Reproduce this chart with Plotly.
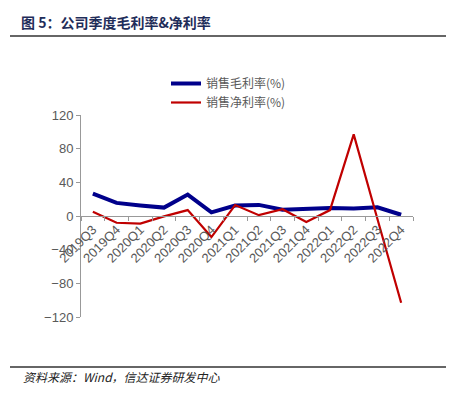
import plotly.graph_objects as go

quarters = ["2019Q3", "2019Q4", "2020Q1", "2020Q2", "2020Q3", "2020Q4", "2021Q1",
            "2021Q2", "2021Q3", "2021Q4", "2022Q1", "2022Q2", "2022Q3", "2022Q4"]
gross_margin = [26.5, 15.6, 12.5, 10.0, 25.5, 4.3, 12.5, 13.2, 7.5, 9.0, 9.5, 9.0, 10.3, 1.5]
net_margin = [5.0, -8.0, -9.0, -0.5, 7.0, -25.0, 13.0, 1.0, 8.0, -7.0, 7.0, 97.0, -3.5, -103.0]
y_ticks = [-120, -80, -40, 0, 40, 80, 120]

OFF = 8  # browser default body margin
W, H = 454 - OFF, 396 - OFF
L, R, T, B = 81 - OFF, 41, 115 - OFF, 79
PW, PH = W - L - R, H - T - B

def px_x(x):
    return (x - OFF - L) / PW

def px_y(y):
    return (H - B - (y - OFF)) / PH

fig = go.Figure()
fig.add_trace(go.Scatter(x=quarters, y=gross_margin, mode="lines", name="销售毛利率(%)",
                         line=dict(color="#00008B", width=4)))
fig.add_trace(go.Scatter(x=quarters, y=net_margin, mode="lines", name="销售净利率(%)",
                         line=dict(color="#C00000", width=2.2)))

grey = "#595959"
fig.update_layout(
    width=W, height=H,
    margin=dict(l=L, r=R, t=T, b=B, autoexpand=False),
    paper_bgcolor="white", plot_bgcolor="white",
    font=dict(family="Liberation Sans, Noto Sans CJK SC, sans-serif", size=13, color=grey),
    showlegend=True,
    legend=dict(xref="container", yref="container", x=(166 - OFF) / W, y=1 - (69 - OFF) / H,
                xanchor="left", yanchor="top", bgcolor="rgba(0,0,0,0)",
                font=dict(family="Noto Sans CJK SC, sans-serif", size=12, color=grey),
                tracegroupgap=0, itemwidth=30),
    xaxis=dict(type="category", anchor="free", position=0.5,
               showline=True, linecolor="#999999", linewidth=1,
               ticks="outside", ticklen=4, tickcolor="#999999", tickson="boundaries",
               tickangle=-45, showgrid=False, zeroline=False,
               tickfont=dict(size=13, color=grey), range=[-0.5, 13.5]),
    yaxis=dict(range=[-120, 120], tickvals=y_ticks, showline=True, linecolor="#999999",
               linewidth=1, ticks="outside", ticklen=4, tickcolor="#999999",
               showgrid=False, zeroline=False, tickfont=dict(size=13, color=grey)),
)

fig.add_annotation(text="<b>图 5：公司季度毛利率&净利率</b>", xref="paper", yref="paper",
                   x=px_x(19), y=px_y(22), xanchor="left", yanchor="middle", showarrow=False,
                   font=dict(family="Noto Sans CJK SC, sans-serif", size=14, color="#1F2D5A"))
fig.add_annotation(text="<i>资料来源：Wind，信达证券研发中心</i>", xref="paper", yref="paper",
                   x=px_x(21), y=px_y(376), xanchor="left", yanchor="middle", showarrow=False,
                   font=dict(family="Noto Sans CJK SC, sans-serif", size=12, color="#222222"))

def hline(ypx):
    fig.add_shape(type="line", xref="paper", yref="paper",
                  x0=px_x(10), x1=px_x(447), y0=px_y(ypx), y1=px_y(ypx),
                  line=dict(color="#333333", width=1.5))

hline(36)
hline(367)

fig.write_html("out.html")
